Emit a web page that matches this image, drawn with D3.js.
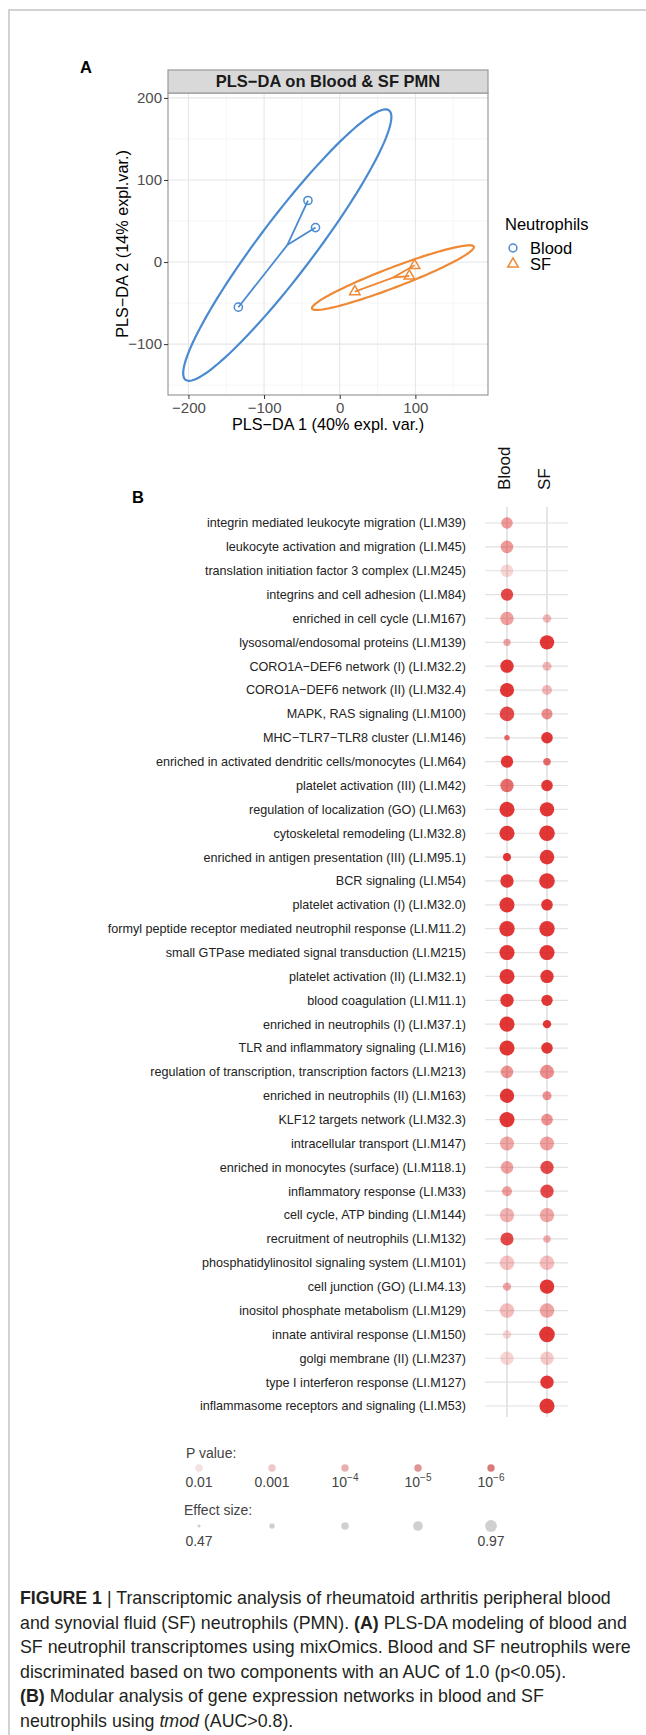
<!DOCTYPE html>
<html>
<head>
<meta charset="utf-8">
<script src="https://cdnjs.cloudflare.com/ajax/libs/d3/7.8.5/d3.min.js"></script>
<style>
   html, body { margin: 0; padding: 0; background: #fff; }
   svg { display: block; font-family: "Liberation Sans", Arial, sans-serif; }
</style>
</head>
<body>
<svg id="figure" width="646" height="1735"></svg>
<script>
// ---- panel A : PLS-DA scores ----
var groups = ['Blood', 'SF'];
var groupColors = ['#4a8ad0', '#ee8a36'];
var bloodScores = [[-134, -55], [-42, 75], [-32, 42]];
var sfScores = [[20, -36], [99, -4], [92, -17]];
var plsXTicks = [-200, -100, 0, 100];
var plsYTicks = [-100, 0, 100, 200];
var plsXMinor = [-150, -50, 50, 150];
var plsYMinor = [-150, -50, 50, 150];

// ---- panel B : tmod modules (effect = AUC, p = p value, null = no dot) ----
var modules = [
   'integrin mediated leukocyte migration (LI.M39)',
   'leukocyte activation and migration (LI.M45)',
   'translation initiation factor 3 complex (LI.M245)',
   'integrins and cell adhesion (LI.M84)',
   'enriched in cell cycle (LI.M167)',
   'lysosomal/endosomal proteins (LI.M139)',
   'CORO1A\u2212DEF6 network (I) (LI.M32.2)',
   'CORO1A\u2212DEF6 network (II) (LI.M32.4)',
   'MAPK, RAS signaling (LI.M100)',
   'MHC\u2212TLR7\u2212TLR8 cluster (LI.M146)',
   'enriched in activated dendritic cells/monocytes (LI.M64)',
   'platelet activation (III) (LI.M42)',
   'regulation of localization (GO) (LI.M63)',
   'cytoskeletal remodeling (LI.M32.8)',
   'enriched in antigen presentation (III) (LI.M95.1)',
   'BCR signaling (LI.M54)',
   'platelet activation (I) (LI.M32.0)',
   'formyl peptide receptor mediated neutrophil response (LI.M11.2)',
   'small GTPase mediated signal transduction (LI.M215)',
   'platelet activation (II) (LI.M32.1)',
   'blood coagulation (LI.M11.1)',
   'enriched in neutrophils (I) (LI.M37.1)',
   'TLR and inflammatory signaling (LI.M16)',
   'regulation of transcription, transcription factors (LI.M213)',
   'enriched in neutrophils (II) (LI.M163)',
   'KLF12 targets network (LI.M32.3)',
   'intracellular transport (LI.M147)',
   'enriched in monocytes (surface) (LI.M118.1)',
   'inflammatory response (LI.M33)',
   'cell cycle, ATP binding (LI.M144)',
   'recruitment of neutrophils (LI.M132)',
   'phosphatidylinositol signaling system (LI.M101)',
   'cell junction (GO) (LI.M4.13)',
   'inositol phosphate metabolism (LI.M129)',
   'innate antiviral response (LI.M150)',
   'golgi membrane (II) (LI.M237)',
   'type I interferon response (LI.M127)',
   'inflammasome receptors and signaling (LI.M53)'
];
var bloodEffect = [0.81, 0.85, 0.85, 0.84, 0.88, 0.64, 0.88, 0.91, 0.93, 0.57,
   0.84, 0.88, 0.95, 0.95, 0.67, 0.88, 0.95, 0.96, 0.95, 0.95,
   0.88, 0.95, 0.95, 0.85, 0.92, 0.95, 0.91, 0.85, 0.75, 0.92,
   0.87, 0.93, 0.68, 0.93, 0.69, 0.88, null, null];
var bloodP = [2e-4, 2e-4, 1e-2, 1e-6, 3e-4, 5e-4, 1e-7, 1e-7, 1e-6, 1e-5,
   1e-7, 1e-5, 1e-7, 1e-7, 1e-7, 1e-7, 1e-7, 1e-7, 1e-7, 1e-7,
   1e-7, 1e-7, 1e-7, 1.3e-4, 1e-7, 1e-7, 5e-4, 3e-4, 3e-4, 1e-3,
   1e-6, 3e-3, 5e-4, 2e-3, 1e-2, 1e-2, null, null];
var sfEffect = [null, null, null, null, 0.69, 0.92, 0.71, 0.75, 0.79, 0.81,
   0.65, 0.81, 0.92, 0.97, 0.93, 0.97, 0.81, 0.96, 0.95, 0.88,
   0.80, 0.68, 0.81, 0.91, 0.71, 0.81, 0.91, 0.88, 0.88, 0.92,
   0.65, 0.93, 0.92, 0.93, 0.97, 0.88, 0.88, 0.95];
var sfP = [null, null, null, null, 1.5e-3, 1e-7, 1.5e-3, 1.5e-3, 1e-4, 1e-7,
   1e-5, 1e-7, 1e-7, 1e-7, 1e-7, 1e-7, 1e-7, 1e-7, 1e-7, 1e-7,
   1e-7, 1e-7, 1e-7, 1e-4, 1.3e-4, 1.3e-4, 3e-4, 1e-6, 1e-6, 5e-4,
   8e-4, 2e-3, 1e-7, 4e-4, 1e-7, 5e-3, 1e-7, 1e-7];
var pValueLegend = [0.01, 0.001, 1e-4, 1e-5, 1e-6];
var effectLegend = [0.47, 0.595, 0.72, 0.845, 0.97];
var effectLegendLabels = ['0.47', '', '', '', '0.97'];

// ---- caption ----
var captionLines = [
   [['b', 'FIGURE 1'], ['n', ' | Transcriptomic analysis of rheumatoid arthritis peripheral blood']],
   [['n', 'and synovial fluid (SF) neutrophils (PMN). '], ['b', '(A)'], ['n', ' PLS-DA modeling of blood and']],
   [['n', 'SF neutrophil transcriptomes using mixOmics. Blood and SF neutrophils were']],
   [['n', 'discriminated based on two components with an AUC of 1.0 (p<0.05).']],
   [['b', '(B)'], ['n', ' Modular analysis of gene expression networks in blood and SF']],
   [['n', 'neutrophils using '], ['i', 'tmod'], ['n', ' (AUC>0.8).']]
];

var svg = d3.select('#figure');

// figure frame
svg.append('path')
   .attr('d', 'M9,1735V10H646')
   .attr('fill', 'none')
   .attr('stroke', '#c4c4c4')
   .attr('stroke-width', 1.5);

// ---------------- panel A ----------------
(function drawPanelA() {
   var x = d3.scaleLinear().domain([-227, 196]).range([168, 488]);
   var y = d3.scaleLinear().domain([-162, 206]).range([395, 93]);
   var g = svg.append('g');

   g.append('text')
      .attr('x', 80).attr('y', 73)
      .attr('font-size', 16.5).attr('font-weight', 'bold')
      .text('A');

   g.append('clipPath').attr('id', 'clipA')
      .append('rect')
      .attr('x', x.range()[0]).attr('y', y.range()[1])
      .attr('width', x.range()[1] - x.range()[0])
      .attr('height', y.range()[0] - y.range()[1]);

   // grid
   g.selectAll('.minorX').data(plsXMinor).enter().append('line')
      .attr('x1', x).attr('x2', x)
      .attr('y1', y.range()[0]).attr('y2', y.range()[1])
      .attr('stroke', '#f2f2f2').attr('stroke-width', 0.8);
   g.selectAll('.minorY').data(plsYMinor).enter().append('line')
      .attr('y1', y).attr('y2', y)
      .attr('x1', x.range()[0]).attr('x2', x.range()[1])
      .attr('stroke', '#f2f2f2').attr('stroke-width', 0.8);
   g.selectAll('.majorX').data(plsXTicks).enter().append('line')
      .attr('x1', x).attr('x2', x)
      .attr('y1', y.range()[0]).attr('y2', y.range()[1])
      .attr('stroke', '#e6e6e6').attr('stroke-width', 1.1);
   g.selectAll('.majorY').data(plsYTicks).enter().append('line')
      .attr('y1', y).attr('y2', y)
      .attr('x1', x.range()[0]).attr('x2', x.range()[1])
      .attr('stroke', '#e6e6e6').attr('stroke-width', 1.1);

   // ellipses, centroid stars and points
   var t95 = Math.sqrt(5.991);
   var line = d3.line()
      .x(function (d) { return x(d[0]); })
      .y(function (d) { return y(d[1]); });
   var plot = g.append('g').attr('clip-path', 'url(#clipA)');

   [bloodScores, sfScores].forEach(function (pts, gi) {
      var color = groupColors[gi];
      var cx = d3.mean(pts, function (d) { return d[0]; });
      var cy = d3.mean(pts, function (d) { return d[1]; });

      plot.append('path')
         .attr('d', line.curve(d3.curveLinearClosed)(confidenceEllipse(pts, t95)))
         .attr('fill', 'none')
         .attr('stroke', color)
         .attr('stroke-width', 2.2);
      line.curve(d3.curveLinear);

      pts.forEach(function (p) {
         plot.append('path')
            .attr('d', line([[cx, cy], p]))
            .attr('stroke', color)
            .attr('stroke-width', 1.8);
      });

      plot.selectAll('.pt' + gi).data(pts).enter().append('path')
         .attr('transform', function (d) { return 'translate(' + x(d[0]) + ',' + y(d[1]) + ')'; })
         .attr('d', d3.symbol(gi === 0 ? d3.symbolCircle : d3.symbolTriangle).size(gi === 0 ? 52 : 48))
         .attr('fill', 'none')
         .attr('stroke', color)
         .attr('stroke-width', 1.5);
   });

   // panel border and strip
   g.append('rect')
      .attr('x', 168).attr('y', 93).attr('width', 320).attr('height', 302)
      .attr('fill', 'none').attr('stroke', '#9a9a9a').attr('stroke-width', 1.2);
   g.append('rect')
      .attr('x', 168).attr('y', 70).attr('width', 320).attr('height', 23)
      .attr('fill', '#d9d9d9').attr('stroke', '#9a9a9a').attr('stroke-width', 1.2);
   g.append('text')
      .attr('x', 328).attr('y', 87)
      .attr('text-anchor', 'middle')
      .attr('font-size', 16.5).attr('font-weight', 'bold').attr('fill', '#1a1a1a')
      .text('PLS\u2212DA on Blood & SF PMN');

   // axes
   var xAxis = d3.axisBottom(x).tickValues(plsXTicks).tickSize(4).tickPadding(3)
      .tickFormat(function (d) { return d < 0 ? '\u2212' + (-d) : d; });
   var yAxis = d3.axisLeft(y).tickValues(plsYTicks).tickSize(4).tickPadding(2)
      .tickFormat(function (d) { return d < 0 ? '\u2212' + (-d) : d; });

   var gx = g.append('g').attr('transform', 'translate(0,395)').call(xAxis);
   var gy = g.append('g').attr('transform', 'translate(168,0)').call(yAxis);
   [gx, gy].forEach(function (ax) {
      ax.select('.domain').remove();
      ax.selectAll('.tick line').attr('stroke', '#333');
      ax.selectAll('.tick text')
         .attr('font-size', 15)
         .attr('font-family', '"Liberation Sans", Arial, sans-serif')
         .attr('fill', '#4d4d4d');
   });

   g.append('text')
      .attr('x', 328).attr('y', 430)
      .attr('text-anchor', 'middle')
      .attr('font-size', 16.2)
      .text('PLS\u2212DA 1 (40% expl. var.)');
   g.append('text')
      .attr('transform', 'translate(128,244) rotate(-90)')
      .attr('text-anchor', 'middle')
      .attr('font-size', 16.2)
      .text('PLS\u2212DA 2 (14% expl.var.)');

   // legend
   var legend = g.append('g');
   legend.append('text')
      .attr('x', 505).attr('y', 230)
      .attr('font-size', 16.5)
      .text('Neutrophils');
   var item = legend.selectAll('.item').data(groups).enter().append('g')
      .attr('transform', function (d, i) { return 'translate(513,' + (248 + i * 16) + ')'; });
   item.append('path')
      .attr('d', function (d, i) {
         return d3.symbol(i === 0 ? d3.symbolCircle : d3.symbolTriangle).size(48)();
      })
      .attr('fill', 'none')
      .attr('stroke', function (d, i) { return groupColors[i]; })
      .attr('stroke-width', 1.5);
   item.append('text')
      .attr('x', 17).attr('y', 6)
      .attr('font-size', 16.5)
      .text(function (d) { return d; });
})();

// ---------------- panel B ----------------
(function drawPanelB() {
   var row = d3.scalePoint().domain(modules).range([523, 1406]);
   var col = d3.scalePoint().domain(groups).range([507, 547]);
   var radius = d3.scaleLinear().domain([0.47, 0.97]).range([1.5, 7.8]);
   var keyRadius = d3.scaleLinear().domain([0.47, 0.97]).range([1.6, 5.9]);
   var alpha = d3.scaleLinear().domain([2, 6.5]).range([0.18, 0.85]).clamp(true);
   var red = '#dc1414';
   var g = svg.append('g');

   g.append('text')
      .attr('x', 132).attr('y', 503)
      .attr('font-size', 16.5).attr('font-weight', 'bold')
      .text('B');

   // column headers
   g.selectAll('.colhead').data(groups).enter().append('text')
      .attr('transform', function (d) { return 'translate(' + (col(d) + 3) + ',490) rotate(-90)'; })
      .attr('font-size', 17)
      .attr('fill', '#111')
      .text(function (d) { return d; });

   // grid
   g.selectAll('.vgrid').data(groups).enter().append('line')
      .attr('x1', col).attr('x2', col)
      .attr('y1', row(modules[0]) - 16).attr('y2', row(modules[modules.length - 1]) + 11)
      .attr('stroke', '#d6d6d6').attr('stroke-width', 1.2);
   g.selectAll('.hgrid').data(modules).enter().append('line')
      .attr('y1', row).attr('y2', row)
      .attr('x1', col(groups[0]) - 22).attr('x2', col(groups[1]) + 21)
      .attr('stroke', '#e2e2e2').attr('stroke-width', 1.2);

   // row labels
   g.selectAll('.rowlab').data(modules).enter().append('text')
      .attr('x', 466).attr('y', row)
      .attr('dy', '0.35em')
      .attr('text-anchor', 'end')
      .attr('font-size', 12.6)
      .attr('fill', '#222')
      .text(function (d) { return d; });

   // dots
   var cells = [];
   modules.forEach(function (m, i) {
      if (bloodEffect[i] !== null) cells.push({ module: m, group: 'Blood', effect: bloodEffect[i], p: bloodP[i] });
      if (sfEffect[i] !== null) cells.push({ module: m, group: 'SF', effect: sfEffect[i], p: sfP[i] });
   });
   g.selectAll('.dot').data(cells).enter().append('circle')
      .attr('cx', function (d) { return col(d.group); })
      .attr('cy', function (d) { return row(d.module); })
      .attr('r', function (d) { return radius(d.effect); })
      .attr('fill', red)
      .attr('fill-opacity', function (d) { return alpha(-Math.log10(d.p)); });

   // legends
   var lx = d3.scalePoint().domain(d3.range(5)).range([199, 491]);
   var leg = g.append('g').attr('font-size', 14).attr('fill', '#444');

   leg.append('text').attr('x', 186).attr('y', 1458).text('P value:');
   leg.selectAll('.pdot').data(pValueLegend).enter().append('circle')
      .attr('cx', function (d, i) { return lx(i); })
      .attr('cy', 1468)
      .attr('r', 3.7)
      .attr('fill', '#c42a2a')
      .attr('fill-opacity', function (d) { return alpha(-Math.log10(d)) * 0.8; });
   var plab = leg.selectAll('.plab').data(pValueLegend).enter().append('text')
      .attr('x', function (d, i) { return lx(i); })
      .attr('y', 1487)
      .attr('text-anchor', 'middle');
   plab.each(function (d) {
      var t = d3.select(this);
      var e = Math.round(Math.log10(d));
      if (e >= -3) {
         t.text(d3.format('.' + (-e) + 'f')(d));
      } else {
         t.append('tspan').text('10');
         t.append('tspan').attr('dy', -6).attr('font-size', 10).text('\u2212' + (-e));
      }
   });

   leg.append('text').attr('x', 184).attr('y', 1515).text('Effect size:');
   leg.selectAll('.edot').data(effectLegend).enter().append('circle')
      .attr('cx', function (d, i) { return lx(i); })
      .attr('cy', 1526)
      .attr('r', keyRadius)
      .attr('fill', '#d0d0d0');
   leg.selectAll('.elab').data(effectLegendLabels).enter().append('text')
      .attr('x', function (d, i) { return lx(i); })
      .attr('y', 1546)
      .attr('text-anchor', 'middle')
      .text(function (d) { return d; });
})();

// ---------------- caption ----------------
var caption = svg.append('g').attr('font-size', 17.8).attr('fill', '#231f20');
caption.selectAll('text').data(captionLines).enter().append('text')
   .attr('x', 20)
   .attr('y', function (d, i) { return 1604 + i * 24.5; })
   .each(function (segs) {
      var t = d3.select(this);
      segs.forEach(function (s) {
         t.append('tspan')
            .attr('font-weight', s[0] === 'b' ? 'bold' : null)
            .attr('font-style', s[0] === 'i' ? 'italic' : null)
            .text(s[1]);
      });
   });

function confidenceEllipse(pts, t) {
   var n = pts.length;
   var mx = d3.mean(pts, function (d) { return d[0]; });
   var my = d3.mean(pts, function (d) { return d[1]; });
   var sxx = d3.sum(pts, function (d) { return (d[0] - mx) * (d[0] - mx); }) / (n - 1);
   var syy = d3.sum(pts, function (d) { return (d[1] - my) * (d[1] - my); }) / (n - 1);
   var sxy = d3.sum(pts, function (d) { return (d[0] - mx) * (d[1] - my); }) / (n - 1);
   var tr = sxx + syy, det = sxx * syy - sxy * sxy;
   var disc = Math.sqrt(tr * tr / 4 - det);
   var l1 = tr / 2 + disc, l2 = tr / 2 - disc;
   var ang = Math.atan2(l1 - sxx, sxy);

   return d3.range(0, 120).map(function (i) {
      var th = 2 * Math.PI * i / 120;
      var a = t * Math.sqrt(l1) * Math.cos(th), b = t * Math.sqrt(Math.max(l2, 0)) * Math.sin(th);
      return [mx + a * Math.cos(ang) - b * Math.sin(ang), my + a * Math.sin(ang) + b * Math.cos(ang)];
   });
}
</script>
</body>
</html>
